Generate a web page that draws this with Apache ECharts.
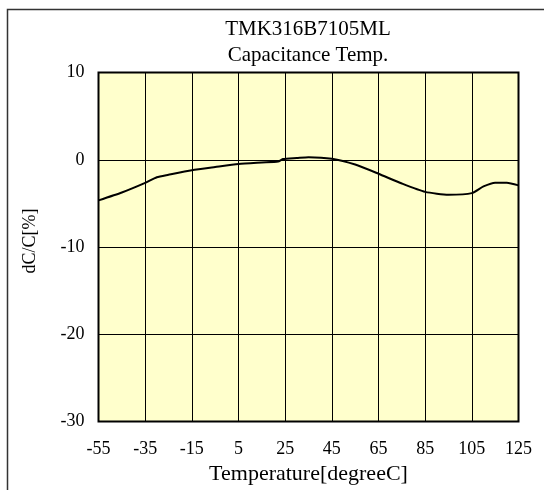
<!DOCTYPE html>
<html>
<head>
<meta charset="utf-8">
<script src="https://cdn.jsdelivr.net/npm/echarts@6/dist/echarts.min.js"></script>
<style>html,body{margin:0;padding:0;background:#fff}#c{width:544px;height:490px}</style>
</head>
<body>
<div id="c"></div>
<script>
// Data
const temps = [-55, -45, -35, -30, -25, -15, -5, 5, 15, 22, 24, 30, 35, 45, 55, 65, 75, 85, 95, 105, 110, 115, 120, 125];
const dCC   = [-4.65, -3.75, -2.65, -2.0, -1.72, -1.2, -0.83, -0.48, -0.31, -0.2, 0.08, 0.2, 0.3, 0.12, -0.55, -1.6, -2.72, -3.68, -4.0, -3.82, -3.05, -2.62, -2.62, -2.93];
const xTickLabels = ['-55', '-35', '-15', '5', '25', '45', '65', '85', '105', '125'];
const yTicks = [-30, -20, -10, 0, 10];
const titleText = 'TMK316B7105ML';
const subText = 'Capacitance Temp.';
const xName = 'Temperature[degreeC]';
const yName = 'dC/C[%]';

const xMin = -55, xMax = 125, xStep = 20;
// shift x so the axis starts at 0 and ticks fall on -55, -35, ...
const seriesData = temps.map((t, i) => [t - xMin, dCC[i]]);
const font = 'Liberation Serif, Times New Roman, serif';

const chart = echarts.init(document.getElementById('c'), null, {renderer: 'canvas'});
chart.setOption({
  animation: false,
  backgroundColor: '#fff',
  title: {
    text: titleText,
    subtext: subText,
    left: 308,
    top: 19,
    padding: 0,
    textAlign: 'center',
    itemGap: 5,
    textStyle: {fontFamily: font, fontSize: 21, fontWeight: 'normal', color: '#000'},
    subtextStyle: {fontFamily: font, fontSize: 21, color: '#000'}
  },
  grid: {
    left: 98.5, right: 25.5, top: 72.5, bottom: 56.5,
    show: true, backgroundColor: '#FFFFCC', borderColor: '#000', borderWidth: 2
  },
  xAxis: {
    type: 'value',
    min: 0, max: xMax - xMin, interval: xStep,
    name: xName, nameLocation: 'middle', nameGap: 34,
    nameTextStyle: {fontFamily: font, fontSize: 22, color: '#000'},
    axisLine: {show: false},
    axisTick: {show: false},
    axisLabel: {
      margin: 18.5, color: '#000', fontFamily: font, fontSize: 18,
      formatter: v => xTickLabels[Math.round(v / xStep)]
    },
    splitLine: {show: true, lineStyle: {color: '#000', width: 1}}
  },
  yAxis: {
    type: 'value',
    min: yTicks[0], max: yTicks[yTicks.length - 1], interval: 10,
    axisLine: {show: false},
    axisTick: {show: false},
    axisLabel: {margin: 14, color: '#000', fontFamily: font, fontSize: 18},
    splitLine: {show: true, lineStyle: {color: '#000', width: 1}}
  },
  graphic: [
    {
      type: 'rect', silent: true, z: 100,
      shape: {x: 7.5, y: 9.5, width: 700, height: 700},
      style: {fill: 'none', stroke: '#333', lineWidth: 1.5}
    },
    {
      type: 'text', x: 30, y: 241, rotation: Math.PI / 2,
      style: {text: yName, font: '18px ' + font, fill: '#000', align: 'center', verticalAlign: 'middle'}
    }
  ],
  series: [{
    type: 'line',
    data: seriesData,
    showSymbol: false,
    smooth: 0.2,
    lineStyle: {color: '#000', width: 2},
    z: 5
  }]
});
</script>
</body>
</html>
